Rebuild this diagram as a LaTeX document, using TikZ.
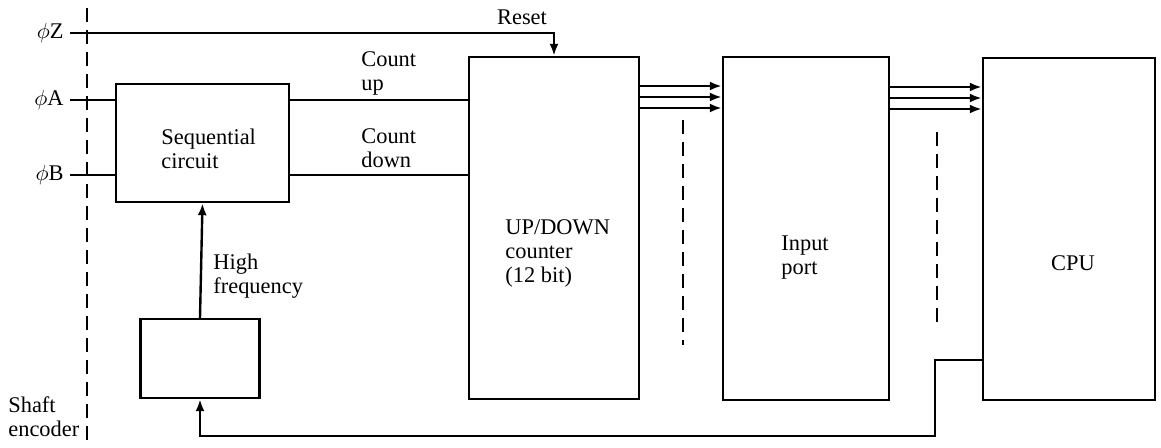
\documentclass[tikz,border=0pt]{standalone}
\usepackage{fontspec}
\setmainfont{Liberation Serif}
\usetikzlibrary{arrows.meta}
\begin{document}
\begin{tikzpicture}[x=0.5pt,y=-0.5pt,
  every node/.style={font=\fontsize{11.2}{12}\selectfont, inner sep=0pt},
  blk/.style={draw, line width=1.2pt, minimum width=#1},
  lbl/.style={align=left, anchor=west},
  wire/.style={line width=1.2pt},
  arr/.style={line width=1.2pt, -{Latex[length=6pt,width=4.5pt]}},
  sep/.style={line width=1.2pt, dash pattern=on 7pt off 4pt}]
\useasboundingbox (0,0) rectangle (1161,448);
% boxes
\node[blk=86.5pt, minimum height=59pt] (seq) at (202.5,143) {};
\node[blk=59.5pt, minimum height=39.5pt] (hf) at (200,358.5) {};
\node[blk=85pt, minimum height=171pt] (counter) at (554,228) {};
\node[blk=83pt, minimum height=171.5pt] (inport) at (806,228.5) {};
\node[blk=86pt, minimum height=171pt] (cpu) at (1069,229) {};
% box texts
\node[lbl] (tseq) at (161,149) {Sequential\\circuit};
\node[lbl] (tcnt) at (505,253) {UP/DOWN\\counter\\(12 bit)};
\node[lbl] (tin) at (781,258) {Input\\port};
\node (tcpu) at (1073,263) {CPU};
% input labels
\node[anchor=east] (lz) at (64,33) {$\phi$Z};
\node[anchor=east] (la) at (64,100) {$\phi$A};
\node[anchor=east] (lb) at (64,175) {$\phi$B};
% other labels
\node (treset) at (522,17) {Reset};
\node[lbl] (tup) at (361,73) {Count\\up};
\node[lbl] (tdown) at (361,148) {Count\\down};
\node[lbl] (thf) at (213,276) {High\\frequency};
\node[lbl] (tshaft) at (8,417) {Shaft\\encoder};
% coordinates
\coordinate (fbx) at (935,360);
\coordinate (fbb) at (935,436);
% connectors
\draw[arr] ([xshift=3pt]lz.east) -| (counter.north);
\draw[wire] ([xshift=3pt]la.east) -- (seq.west |- la);
\draw[wire] ([xshift=3pt]lb.east) -- (seq.west |- lb);
\draw[wire] (seq.east |- la) -- (counter.west |- la);
\draw[wire] (seq.east |- lb) -- (counter.west |- lb);
\draw[arr] (hf.north) -- (seq.south);
\foreach \yy in {86,97,108}{
  \draw[arr] (counter.east |- 0,\yy) -- (inport.west |- 0,\yy);
}
\foreach \yy in {87,98,109}{
  \draw[arr] (inport.east |- 0,\yy) -- (cpu.west |- 0,\yy);
}
\draw[arr] (cpu.west |- fbx) -- (fbx) -- (fbb) -| (hf.south);
% dashed separators
\draw[sep] (87,8) -- (87,448);
\draw[sep] (683,120) -- (683,345);
\draw[sep] (937,132) -- (937,322);
\end{tikzpicture}
\end{document}
